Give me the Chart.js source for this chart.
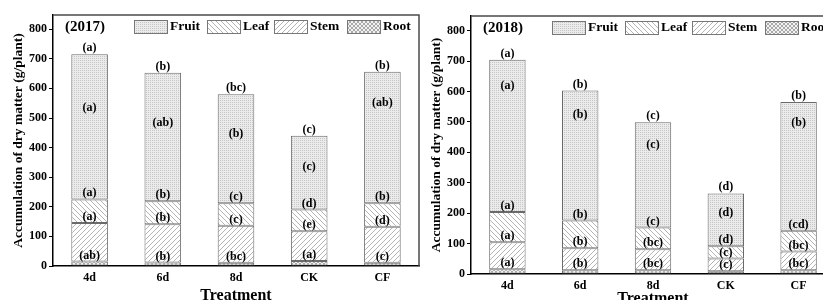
<!DOCTYPE html>
<html>
<head>
<meta charset="utf-8">
<script src="https://cdn.jsdelivr.net/npm/chart.js@4"></script>
<style>
  html, body { margin: 0; padding: 0; background: #fff; overflow: hidden; }
  #wrap { position: relative; width: 823px; height: 300px; overflow: hidden; }
  #c2017 { position: absolute; left: 0; top: 0; }
  #c2018 { position: absolute; left: 420px; top: 0; }
</style>
</head>
<body>
<div id="wrap">
  <canvas id="c2017" width="420" height="310"></canvas>
  <canvas id="c2018" width="425" height="310"></canvas>
</div>
<script>
// categories and tick labels
const treatments = ['4d', '6d', '8d', 'CK', 'CF'];
const yTickValues = [0, 100, 200, 300, 400, 500, 600, 700, 800];

// 2017, g/plant
const root2017 = [15, 12, 11, 17, 11];
const stem2017 = [130, 129, 125, 100, 122];
const leaf2017 = [80, 78, 76, 74, 79];
const fruit2017 = [490, 434, 368, 249, 444];

// 2018
const root2018 = [16, 12, 12, 9, 12];
const stem2018 = [88, 73, 69, 42, 62];
const leaf2018 = [100, 91, 72, 40, 68];
const fruit2018 = [500, 427, 346, 174, 423];

// significance letters
const total2017Letters = ['a', 'b', 'bc', 'c', 'b'];
const fruit2017Letters = ['a', 'ab', 'b', 'c', 'ab'];
const leaf2017Letters = ['a', 'b', 'c', 'd', 'b'];
const stem2017Letters = ['a', 'b', 'c', 'e', 'd'];
const root2017Letters = ['ab', 'b', 'bc', 'a', 'c'];

const total2018Letters = ['a', 'b', 'c', 'd', 'b'];
const fruit2018Letters = ['a', 'b', 'c', 'd', 'b'];
const leaf2018Letters = ['a', 'b', 'c', 'd', 'cd'];
const stem2018Letters = ['a', 'b', 'bc', 'c', 'bc'];
const root2018Letters = ['a', 'b', 'bc', 'c', 'bc'];

const SERIF = '"Liberation Serif", "Times New Roman", serif';

function makePattern(kind) {
  const c = document.createElement('canvas');
  const x = c.getContext('2d');
  if (kind === 'fruit') {
    c.width = c.height = 2;
    x.fillStyle = '#ebebeb';
    x.fillRect(0, 0, 2, 2);
    x.fillStyle = '#c6c6c6';
    x.fillRect(0, 0, 1, 1);
  } else if (kind === 'root') {
    c.width = c.height = 4;
    x.fillStyle = '#f2f2f2';
    x.fillRect(0, 0, 4, 4);
    x.fillStyle = '#a9a9a9';
    for (let i = 0; i < 4; i++) { x.fillRect(i, i, 1, 1); x.fillRect(3 - i, i, 1, 1); }
  } else {
    c.width = c.height = 5;
    x.fillStyle = '#fff';
    x.fillRect(0, 0, 5, 5);
    x.fillStyle = '#b4b4b4';
    for (let i = 0; i < 5; i++) {
      if (kind === 'leaf') x.fillRect(i, i, 1, 1);   // "\\\\"
      else x.fillRect(4 - i, i, 1, 1);              // "////"
    }
  }
  return document.createElement('canvas').getContext('2d').createPattern(c, 'repeat');
}

// legend, year tag, box and letters
const panelDecor = {
  id: 'panelDecor',
  afterDraw(chart, args, o) {
    const { ctx, chartArea: a } = chart;
    const ds = chart.data.datasets;
    ctx.save();

    ctx.strokeStyle = '#4a4a4a';
    ctx.lineWidth = 1.5;
    ctx.beginPath();
    ctx.moveTo(a.left, a.top);
    ctx.lineTo(a.right, a.top);
    ctx.lineTo(a.right, a.bottom);
    ctx.stroke();

    ctx.fillStyle = '#000';
    ctx.textBaseline = 'middle';
    ctx.textAlign = 'left';
    ctx.font = 'bold 15px ' + SERIF;
    ctx.fillText(o.year, a.left + 12, a.top + 12);

    ctx.font = 'bold 13.5px ' + SERIF;
    [3, 2, 1, 0].forEach((di, k) => {
      const sx = a.left + o.legendX[k];
      const sy = a.top + 5;
      ctx.fillStyle = ds[di].backgroundColor;
      ctx.fillRect(sx, sy, 33, 13);
      ctx.strokeStyle = '#777';
      ctx.lineWidth = 1;
      ctx.strokeRect(sx + 0.5, sy + 0.5, 33, 13);
      ctx.fillStyle = '#000';
      ctx.fillText(ds[di].label, sx + 36, sy + 7);
    });

    ctx.font = 'bold 12px ' + SERIF;
    ctx.textAlign = 'center';
    const sets = o.letters; // root, stem, leaf, fruit, total
    for (let di = 0; di < 4; di++) {
      chart.getDatasetMeta(di).data.forEach((el, j) => {
        const p = el.getProps(['x', 'y', 'base'], true);
        if (di < 3) {
          ctx.fillText('(' + sets[di][j] + ')', p.x, p.y - 6);
        } else {
          ctx.fillText('(' + sets[3][j] + ')', p.x, p.y + (p.base - p.y) * o.fruitFrac[j]);
          ctx.fillText('(' + sets[4][j] + ')', p.x, p.y - 6);
        }
      });
    }
    ctx.restore();
  }
};

function makeChart(id, year, root, stem, leaf, fruit, letters, cfg) {
  const tickFont = { family: SERIF, size: 12, weight: 'bold' };
  new Chart(document.getElementById(id), {
    type: 'bar',
    data: {
      labels: treatments,
      datasets: [
        { label: 'Root', data: root, backgroundColor: makePattern('root') },
        { label: 'Stem', data: stem, backgroundColor: makePattern('stem') },
        { label: 'Leaf', data: leaf, backgroundColor: makePattern('leaf') },
        { label: 'Fruit', data: fruit, backgroundColor: makePattern('fruit') }
      ]
    },
    options: {
      responsive: false,
      animation: false,
      layout: { padding: { left: 0, top: cfg.top, right: cfg.right, bottom: 0 } },
      datasets: {
        bar: {
          borderColor: '#6a6a6a',
          borderWidth: 1,
          borderSkipped: false,
          categoryPercentage: 1,
          barPercentage: 0.5
        }
      },
      scales: {
        x: {
          stacked: true,
          grid: { display: false, drawTicks: false },
          border: { display: true, color: '#000', width: 1.5 },
          ticks: { color: '#000', font: tickFont, padding: 5 },
          title: {
            display: true, text: 'Treatment', color: '#000',
            font: { family: SERIF, size: 16, weight: 'bold' },
            padding: { top: 0, bottom: cfg.xTitlePad }
          },
          afterFit: s => { s.height = cfg.xHeight; }
        },
        y: {
          stacked: true,
          min: 0,
          max: 848,
          afterBuildTicks: s => { s.ticks = yTickValues.map(v => ({ value: v })); },
          grid: { drawOnChartArea: false, drawTicks: true, tickLength: 4, color: '#000' },
          border: { display: true, color: '#000', width: 1.5 },
          ticks: { color: '#000', font: tickFont, padding: 2 },
          title: {
            display: true, text: 'Accumulation of dry matter (g/plant)', color: '#000',
            font: { family: SERIF, size: 13.5, weight: 'bold' },
            padding: { top: cfg.yTitlePad, bottom: 0 }
          },
          afterFit: s => { s.width = cfg.yWidth; }
        }
      },
      plugins: {
        legend: { display: false },
        tooltip: { enabled: false },
        panelDecor: {
          year: year,
          legendX: [81, 154, 221, 294],
          fruitFrac: cfg.fruitFrac,
          letters: letters
        }
      }
    },
    plugins: [panelDecor]
  });
}

makeChart('c2017', '(2017)', root2017, stem2017, leaf2017, fruit2017,
  [root2017Letters, stem2017Letters, leaf2017Letters, fruit2017Letters, total2017Letters],
  { top: 15, right: 1, yWidth: 53, xHeight: 44, xTitlePad: 5, yTitlePad: 10,
    fruitFrac: [0.37, 0.39, 0.36, 0.42, 0.24] });

makeChart('c2018', '(2018)', root2018, stem2018, leaf2018, fruit2018,
  [root2018Letters, stem2018Letters, leaf2018Letters, fruit2018Letters, total2018Letters],
  { top: 16, right: 10, yWidth: 51, xHeight: 36, xTitlePad: 2, yTitlePad: 8,
    fruitFrac: [0.17, 0.19, 0.22, 0.36, 0.16] });
</script>
</body>
</html>
